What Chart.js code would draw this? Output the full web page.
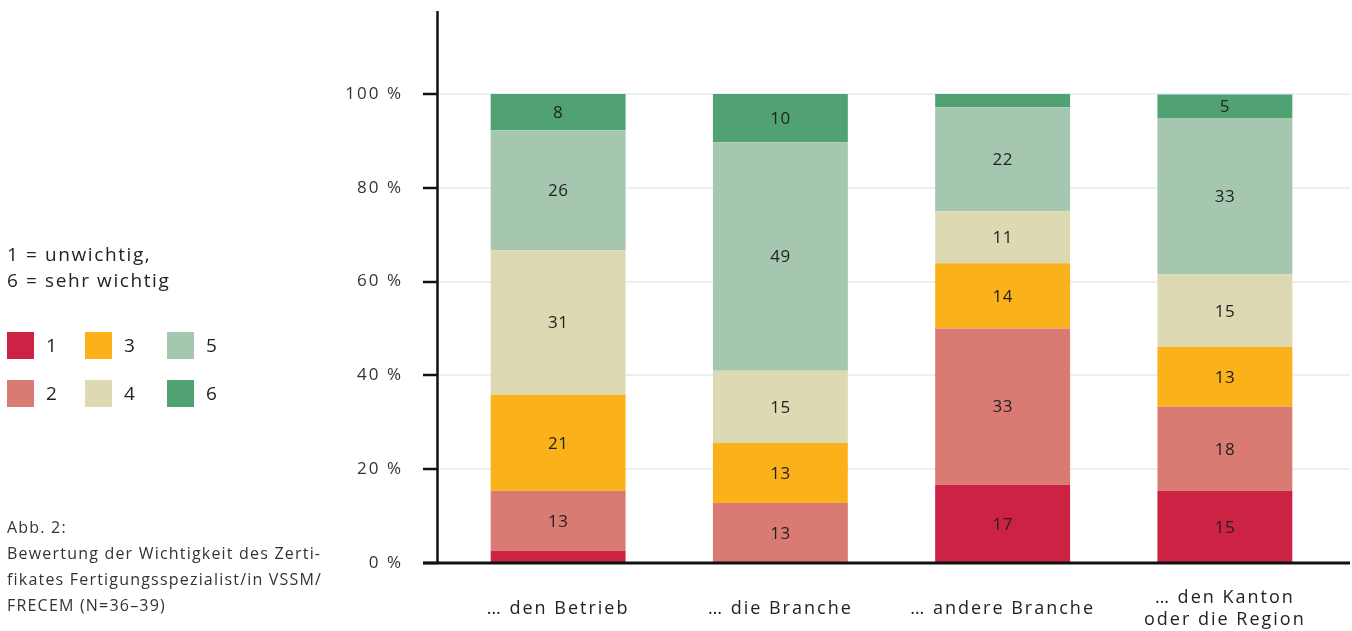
<!DOCTYPE html>
<html lang="de">
<head>
<meta charset="utf-8">
<title>Bewertung der Wichtigkeit</title>
<script src="https://cdn.jsdelivr.net/npm/chart.js@4.4.0/dist/chart.umd.min.js"></script>
<style>
  html, body { margin: 0; padding: 0; background: #fff; }
  body { width: 1352px; height: 631px; position: relative; overflow: hidden; font-family: "Open Sans", "Noto Sans", sans-serif; color: #222; }
  #wrap { position: absolute; left: 0; top: 0; width: 1352px; height: 631px; }
  .side { position: absolute; left: 7px; white-space: nowrap; }
  .scale-title { top: 241px; font-size: 19px; line-height: 26px; letter-spacing: 1.6px; }
  .legend { top: 332px; width: 300px; height: 80px; }
  .legend .item { position: absolute; font-size: 19px; line-height: 27px; }
  .legend .sw { position: absolute; left: 0; top: 0; width: 27px; height: 27px; }
  .legend .lb { position: absolute; left: 39px; top: 0; }
  .caption { top: 514px; font-size: 16px; line-height: 26px; color: #333; letter-spacing: 1.2px; }
</style>
</head>
<body>
<div id="wrap"><canvas id="chart"></canvas></div>
<div class="side scale-title">1 = unwichtig,<br>6 = sehr wichtig</div>
<div class="side legend" id="legend"></div>
<div class="side caption">Abb. 2:<br>Bewertung der Wichtigkeit des Zerti-<br>fikates Fertigungsspezialist/in VSSM/<br>FRECEM (N=36–39)</div>
<script>
// categories (x axis)
const categories = [
  ["… den Betrieb"],
  ["… die Branche"],
  ["… andere Branche"],
  ["… den Kanton", "oder die Region"],
];

// rating levels 1..6
const levels = ["1", "2", "3", "4", "5", "6"];
const levelColors = ["#cc2244", "#d97b73", "#fbb21a", "#dcd9b3", "#a6c7af", "#50a272"];

// share of answers in % per level, one value per category
const level1 = [2.6, 0, 16.7, 15.4];
const level2 = [12.8, 12.8, 33.3, 17.9];
const level3 = [20.5, 12.8, 13.9, 12.8];
const level4 = [30.8, 15.4, 11.1, 15.4];
const level5 = [25.6, 48.7, 22.2, 33.3];
const level6 = [7.7, 10.3, 2.8, 5.1];

const yTicks = [0, 20, 40, 60, 80, 100];

const series = [level1, level2, level3, level4, level5, level6];

const FONT = "'Open Sans', 'Noto Sans', sans-serif";

// legend on the left
const legendEl = document.getElementById("legend");
levels.forEach((lv, i) => {
  const col = Math.floor(i / 2);
  const row = i % 2;
  const left = [0, 78, 160][col];
  const item = document.createElement("div");
  item.className = "item";
  item.style.left = left + "px";
  item.style.top = row * 48 + "px";
  item.innerHTML = `<span class="sw" style="background:${levelColors[i]}"></span><span class="lb">${lv}</span>`;
  legendEl.appendChild(item);
});

// wider letter spacing for the axis text
const spacing = {
  id: "spacing",
  beforeDraw(chart) {
    chart.ctx.letterSpacing = "2px";
  },
};

// value labels inside the bars (small segments stay unlabelled)
const barLabels = {
  id: "barLabels",
  afterDatasetsDraw(chart) {
    const ctx = chart.ctx;
    ctx.save();
    ctx.letterSpacing = "0.5px";
    ctx.font = "17px " + FONT;
    ctx.fillStyle = "#222";
    ctx.textAlign = "center";
    ctx.textBaseline = "middle";
    chart.data.datasets.forEach((ds, di) => {
      const meta = chart.getDatasetMeta(di);
      meta.data.forEach((bar, i) => {
        const v = ds.data[i];
        if (v < 4) return;
        ctx.fillText(String(Math.round(v)), bar.x, (bar.y + bar.base) / 2 + 1);
      });
    });
    ctx.restore();
  },
};

// grid, tick marks and axis lines
const axisLines = {
  id: "axisLines",
  beforeDatasetsDraw(chart) {
    const ctx = chart.ctx;
    const y = chart.scales.y;
    const axisX = 437.5;
    ctx.save();
    ctx.strokeStyle = "#e8f1f3";
    ctx.lineWidth = 2;
    yTicks.forEach((t) => {
      if (t === 0) return;
      const py = Math.round(y.getPixelForValue(t));
      ctx.beginPath();
      ctx.moveTo(axisX, py);
      ctx.lineTo(1350, py);
      ctx.stroke();
    });
    ctx.restore();
  },
  afterDatasetsDraw(chart) {
    const ctx = chart.ctx;
    const y = chart.scales.y;
    const axisX = 437.5;
    ctx.save();
    ctx.strokeStyle = "#111";
    ctx.lineWidth = 2.5;
    yTicks.forEach((t) => {
      const py = Math.round(y.getPixelForValue(t));
      ctx.beginPath();
      ctx.moveTo(423, py);
      ctx.lineTo(axisX, py);
      ctx.stroke();
    });
    ctx.beginPath();
    ctx.moveTo(axisX, 11);
    ctx.lineTo(axisX, y.getPixelForValue(0));
    ctx.stroke();
    ctx.lineWidth = 3;
    const py0 = Math.round(y.getPixelForValue(0));
    ctx.beginPath();
    ctx.moveTo(423, py0);
    ctx.lineTo(1350, py0);
    ctx.stroke();
    ctx.restore();
  },
};

new Chart(document.getElementById("chart"), {
  type: "bar",
  data: {
    labels: categories,
    datasets: series.map((vals, i) => ({
      label: levels[i],
      data: vals,
      backgroundColor: levelColors[i],
      borderWidth: 0,
      barPercentage: 1,
      categoryPercentage: 0.607,
    })),
  },
  options: {
    responsive: true,
    maintainAspectRatio: false,
    animation: false,
    events: [],
    layout: { padding: { left: 0, right: 16, top: 12, bottom: 0 } },
    plugins: {
      legend: { display: false },
      tooltip: { enabled: false },
    },
    scales: {
      x: {
        stacked: true,
        grid: { display: false },
        border: { display: false },
        ticks: {
          color: "#222",
          font: { family: FONT, size: 18 },
          padding: 27,
          crossAlign: "center",
          maxRotation: 0,
          autoSkip: false,
        },
        afterFit(scale) { scale.height = 68; },
      },
      y: {
        stacked: true,
        min: 0,
        max: 117.5,
        bounds: "data",
        grid: { display: false },
        border: { display: false },
        ticks: {
          color: "#333",
          padding: 36,
          font: { family: FONT, size: 17 },
          callback: (v) => v + " %",
        },
        afterBuildTicks(scale) {
          scale.ticks = yTicks.map((v) => ({ value: v }));
        },
        afterFit(scale) {
          scale.width = 447;
          scale.paddingTop = 0;
        },
      },
    },
  },
  plugins: [spacing, axisLines, barLabels],
});
</script>
</body>
</html>
